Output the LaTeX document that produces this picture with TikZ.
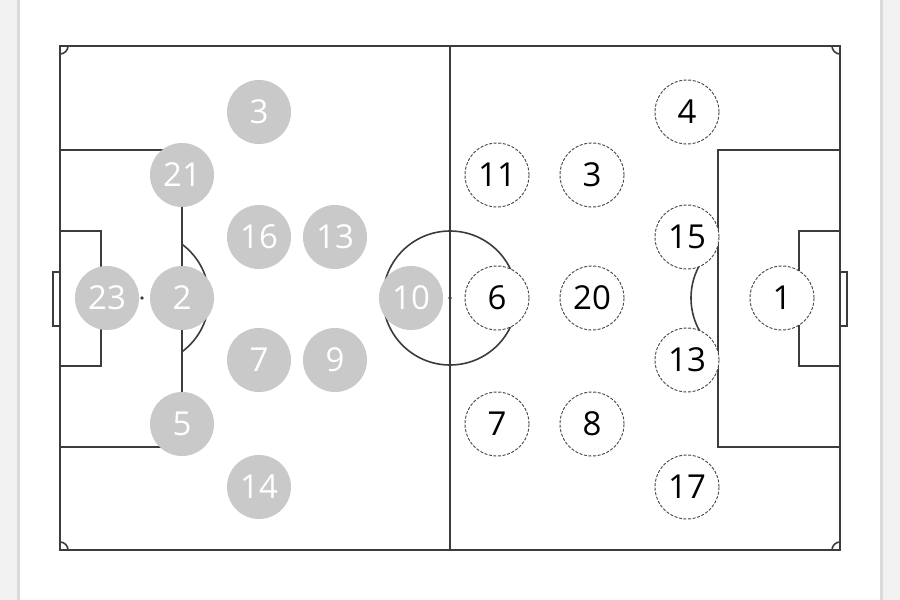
\documentclass[tikz,border=0pt]{standalone}
\usepackage{fontspec}
\setmainfont{Open Sans}
\definecolor{linec}{HTML}{3C3C3C}
\definecolor{grayp}{HTML}{C9C9C9}
\definecolor{dashc}{HTML}{444444}
\definecolor{bandc}{HTML}{F2F2F2}
\definecolor{bandl}{HTML}{DADADA}
\begin{document}
\begin{tikzpicture}[x=1pt,y=-1pt,
  pline/.style={draw=linec, line width=1.6pt},
  border/.style={draw=linec, line width=2.4pt},
  home/.style={circle, fill=grayp, text=white, minimum size=64pt, inner sep=0pt,
    font=\fontsize{33}{33}\selectfont},
  away/.style={circle, fill=white, draw=dashc, dash pattern=on 3pt off 1.6pt,
    line width=0.9pt, minimum size=64pt, inner sep=0pt, text=black,
    font=\fontsize{33}{33}\selectfont}]
\useasboundingbox (0,0) rectangle (900,600);
% background
\fill[white] (0,0) rectangle (900,600);
\fill[bandc] (0,0) rectangle (17,600);
\fill[bandl] (17,0) rectangle (20,600);
\fill[bandl] (880,0) rectangle (883,600);
\fill[bandc] (883,0) rectangle (900,600);
% pitch
\draw[border] (60,46) rectangle (840,550);
\draw[pline] (450,46) -- (450,550);
\draw[pline] (450,298) circle (67);
\fill[linec] (450,298) circle (1.8);
% left side
\draw[pline] (60,150) -- (182,150) -- (182,447) -- (60,447);
\draw[pline] (60,231) -- (101,231) -- (101,366) -- (60,366);
\draw[pline] (60,272) -- (53,272) -- (53,326) -- (60,326);
\fill[linec] (142,298) circle (1.8);
\begin{scope}
  \clip (182,0) rectangle (300,600);
  \draw[pline] (142,298) circle (67);
\end{scope}
% right side
\draw[pline] (840,150) -- (718,150) -- (718,447) -- (840,447);
\draw[pline] (840,231) -- (799,231) -- (799,366) -- (840,366);
\draw[pline] (840,272) -- (847,272) -- (847,326) -- (840,326);
\fill[linec] (758,298) circle (1.8);
\begin{scope}
  \clip (600,0) rectangle (718,600);
  \draw[pline] (758,298) circle (67);
\end{scope}
% corner arcs
\begin{scope}
  \clip (60,46) rectangle (840,550);
  \draw[pline] (60,46) circle (8);
  \draw[pline] (840,46) circle (8);
  \draw[pline] (60,550) circle (8);
  \draw[pline] (840,550) circle (8);
\end{scope}
% home team (gray)
\node[home] (l3)  at (259,112) {3};
\node[home] (l21) at (182,175) {21};
\node[home] (l16) at (259,237) {16};
\node[home] (l13) at (335,237) {13};
\node[home] (l23) at (107,298) {23};
\node[home] (l2)  at (182,298) {2};
\node[home] (l10) at (411,298) {10};
\node[home] (l7)  at (259,360) {7};
\node[home] (l9)  at (335,360) {9};
\node[home] (l5)  at (182,424) {5};
\node[home] (l14) at (259,487) {14};
% away team (white, dashed)
\node[away] (r4)  at (687,112) {4};
\node[away] (r11) at (497,175) {11};
\node[away] (r3)  at (592,175) {3};
\node[away] (r15) at (687,237) {15};
\node[away] (r6)  at (497,298) {6};
\node[away] (r20) at (592,298) {20};
\node[away] (r1)  at (782,298) {1};
\node[away] (r13) at (687,360) {13};
\node[away] (r7)  at (497,424) {7};
\node[away] (r8)  at (592,424) {8};
\node[away] (r17) at (687,487) {17};
\end{tikzpicture}
\end{document}
